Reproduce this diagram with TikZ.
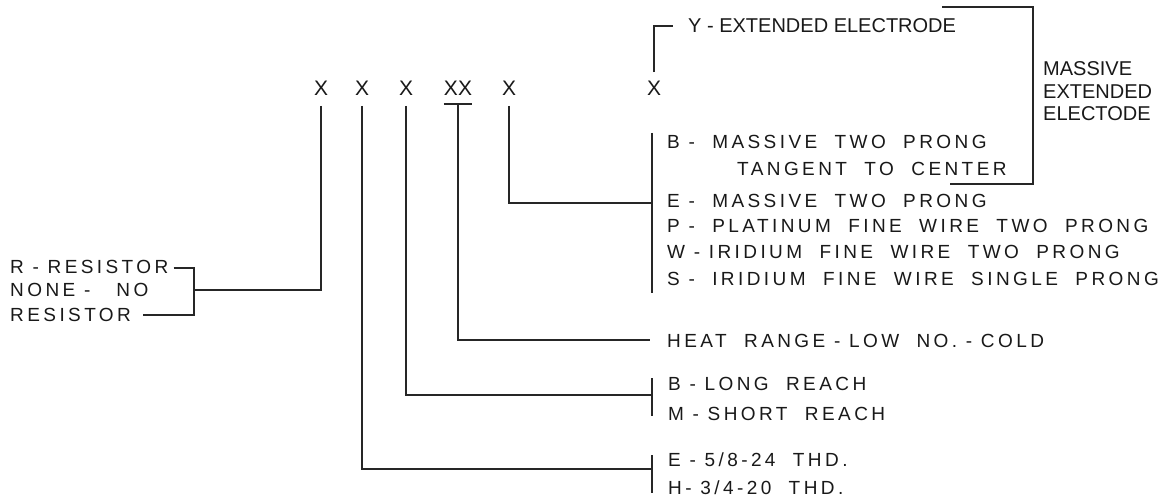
\documentclass[tikz,border=0pt]{standalone}
\usepackage{fontspec}
\usetikzlibrary{calc}
\setmainfont{Liberation Sans}
\newfontfamily\spfont[LetterSpace=18]{Liberation Sans}
\begin{document}
\begin{tikzpicture}[x=1pt,y=-1pt,
  ln/.style={line width=1.4pt, draw=black!85},
  xl/.style={font=\fontsize{21}{21}\selectfont, inner sep=0pt, text=black!90},
  sp/.style={font=\spfont\fontsize{19}{19}\selectfont, inner sep=0pt, anchor=base west, text=black!90},
  pl/.style={font=\fontsize{20}{20}\selectfont, inner sep=0pt, anchor=base west, text=black!90}]
\useasboundingbox[fill=white] (0,0) rectangle (1161,500);
% code letters
\node[xl] (x1) at (321,88.5) {X};
\node[xl] (x2) at (362,88.5) {X};
\node[xl] (x3) at (406,88.5) {X};
\node[xl] (xx) at (458,88.5) {XX};
\node[xl] (x5) at (509,88.5) {X};
\node[xl] (x6) at (654,88.5) {X};
% resistor
\node[sp] (r1) at (10,273.3) {R - RESISTOR};
\node[sp] (r2) at (10,296.8) {NONE -~~ NO};
\node[sp] (r3) at (10,321.8) {RESISTOR};
\coordinate (rtop) at ([xshift=5pt]r1.east |- 0,268);
\coordinate (rbot) at (143,315);
\coordinate (rb) at (194,290);
\draw[ln] (rtop) -- (rtop -| rb) -- (rbot -| rb) -- (rbot);
\draw[ln,shorten <=10pt] (x1.south) |- (rb);
% electrode types
\node[pl] (y) at (688,32.7) {Y - EXTENDED ELECTRODE};
\node[pl] (m1) at (1043,76) {MASSIVE};
\node[pl] (m2) at (1043,99) {EXTENDED};
\node[pl] (m3) at (1043,121) {ELECTODE};
\node[sp] (eb) at (667,148) {B -~ MASSIVE~ TWO~ PRONG};
\node[sp] (eb2) at (737,175) {TANGENT~ TO~ CENTER};
\node[sp] (ee) at (667,207) {E -~ MASSIVE~ TWO~ PRONG};
\node[sp] (ep) at (667,232) {P -~ PLATINUM~ FINE~ WIRE~ TWO~ PRONG};
\node[sp] (ew) at (667,258) {W - IRIDIUM~ FINE~ WIRE~ TWO~ PRONG};
\node[sp] (es) at (667,285) {S -~ IRIDIUM~ FINE~ WIRE~ SINGLE~ PRONG};
\coordinate (ytick) at (673,26);
\draw[ln,shorten <=9pt] (x6.north) |- (ytick);
\coordinate (mb1) at (942,7);
\coordinate (mb2) at (1033,7);
\coordinate (mb3) at (1033,184);
\coordinate (mb4) at (950,184);
\draw[ln] (mb1) -- (mb2) -- (mb3) -- (mb4);
\coordinate (e5) at (652,203);
\coordinate (e5a) at (652,133);
\coordinate (e5b) at (652,293);
\draw[ln] (e5a) -- (e5b);
\draw[ln,shorten <=10pt] (x5.south) |- (e5);
% heat range
\node[sp] (h) at (667,347) {HEAT~ RANGE - LOW~ NO. - COLD};
\coordinate (hl) at (650,340);
\coordinate (xxl) at ([yshift=-8pt]xx.south west);
\coordinate (xxr) at ([yshift=-8pt]xx.south east);
\draw[ln] (xxl) -- (xxr);
\draw[ln] ($(xxl)!0.5!(xxr)$) |- (hl);
% reach
\node[sp] (rl) at (668,390) {B - LONG~ REACH};
\node[sp] (rs) at (668,420) {M - SHORT~ REACH};
\coordinate (t3) at (652,395);
\coordinate (t3a) at (652,378);
\coordinate (t3b) at (652,416);
\draw[ln] (t3a) -- (t3b);
\draw[ln,shorten <=10pt] (x3.south) |- (t3);
% thread
\node[sp] (th1) at (668,466) {E - 5/8-24~ THD.};
\node[sp] (th2) at (668,494) {H- 3/4-20~ THD.};
\coordinate (t2) at (652,469);
\coordinate (t2a) at (652,455);
\coordinate (t2b) at (652,493);
\draw[ln] (t2a) -- (t2b);
\draw[ln,shorten <=10pt] (x2.south) |- (t2);
\end{tikzpicture}
\end{document}
